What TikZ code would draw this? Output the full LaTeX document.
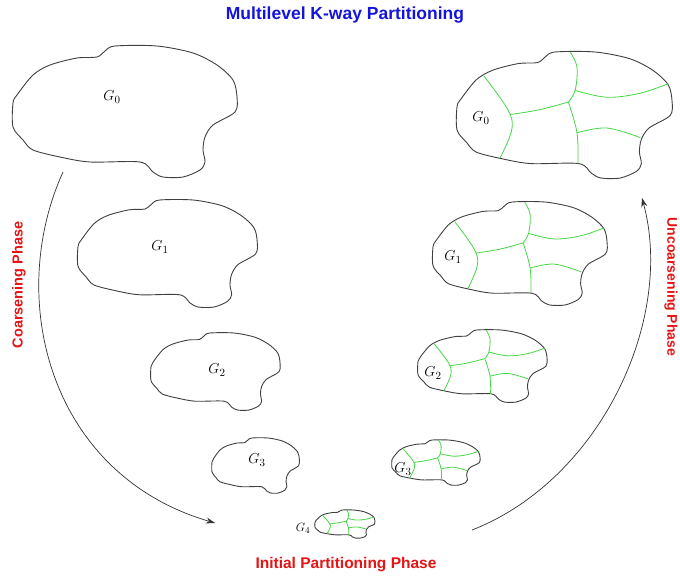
\documentclass[tikz,border=0pt]{standalone}
\usepackage{fontspec}
\newfontfamily\labelfont{Liberation Sans}
\usetikzlibrary{arrows.meta}
\definecolor{partgreen}{RGB}{70,215,70}
\definecolor{titleblue}{RGB}{20,20,220}
\definecolor{phasered}{RGB}{230,20,20}
\newcommand{\myblob}[4]{%
  \begin{scope}[shift={(#1,#2)},xscale=#3,yscale=#4]
    \draw[blobline] plot[smooth cycle, tension=0.5] coordinates {(64,12) (84,11) (92,5) (102,0) (144,0) (180,7) (204,19) (220,34) (224,51) (222,66) (200,79) (192,91) (190,104) (192,116) (187,124) (170,131) (150,131) (140,126) (127,116) (77,116) (47,111) (20,104) (10,94) (0,81) (0,57) (4,49) (20,29) (37,19)};
  \end{scope}}
\newcommand{\mypart}[4]{%
  \begin{scope}[shift={(#1,#2)},xscale=#3,yscale=#4]
    \draw[partline] plot[smooth, tension=0.6] coordinates {(28,25) (53,60) (57,81) (45,110)};
    \draw[partline] plot[smooth, tension=0.6] coordinates {(55,65) (86,60) (116,52)};
    \draw[partline] plot[smooth, tension=0.6] coordinates {(118,0) (125,16) (123,40) (116,52)};
    \draw[partline] plot[smooth, tension=0.6] coordinates {(123,40) (156,47) (190,43) (220,33)};
    \draw[partline] plot[smooth, tension=0.6] coordinates {(116,52) (125,84) (126,116)};
    \draw[partline] plot[smooth, tension=0.6] coordinates {(125,84) (156,79) (191,89)};
  \end{scope}}
\begin{document}
\begin{tikzpicture}[x=1pt,y=-1pt,
  blobline/.style={draw=black!75, line width=0.9pt},
  partline/.style={draw=partgreen, line width=0.8pt},
  glabel/.style={inner sep=0pt, font=\fontsize{15}{17}\selectfont},
  smalllabel/.style={inner sep=0pt, font=\fontsize{13}{15}\selectfont},
  titletext/.style={inner sep=0pt, text=titleblue, font=\labelfont\bfseries\fontsize{17.5}{20}\selectfont},
  phasetext/.style={inner sep=0pt, text=phasered, font=\labelfont\bfseries\fontsize{14.5}{17}\selectfont},
  phasearrow/.style={draw=black!80, line width=0.7pt, -{Stealth[length=9pt,width=6pt]}}]
\useasboundingbox (0,0) rectangle (680,576);
\fill[white] (0,0) rectangle (680,576);

% left column (coarsening)
\myblob{13}{46}{1}{1}
\myblob{78}{200}{0.80}{0.817}
\myblob{151}{333}{0.576}{0.588}
\myblob{212}{438}{0.39}{0.42}
\node[glabel] (lg0) at (112,97) {$G_0$};
\node[glabel] (lg1) at (160,247) {$G_1$};
\node[glabel] (lg2) at (217,370) {$G_2$};
\node[glabel] (lg3) at (257,460) {$G_3$};

% right column (uncoarsening)
\myblob{457}{52}{0.96}{0.962}
\mypart{457}{52}{0.96}{0.962}
\myblob{433}{202}{0.777}{0.786}
\mypart{433}{202}{0.777}{0.786}
\myblob{418}{330}{0.576}{0.55}
\mypart{418}{330}{0.576}{0.55}
\myblob{392}{440}{0.393}{0.344}
\mypart{392}{440}{0.393}{0.344}
\myblob{315}{510}{0.268}{0.214}
\mypart{315}{510}{0.268}{0.214}
\node[glabel] (rg0) at (481,118) {$G_0$};
\node[glabel] (rg1) at (453,257) {$G_1$};
\node[glabel] (rg2) at (433,373) {$G_2$};
\node[glabel] (rg3) at (403,469) {$G_3$};
\node[smalllabel] (g4) at (303,528) {$G_4$};

% phase arrows
\coordinate (cstart) at (63,172);
\coordinate (cend) at (215,523);
\draw[phasearrow] (cstart) .. controls (5,300) and (50,475) .. (cend);
\coordinate (ustart) at (472,530);
\coordinate (uend) at (642,198);
\draw[phasearrow] (ustart) .. controls (600,480) and (675,320) .. (uend);

% texts
\node[titletext] (title) at (345,15) {Multilevel K-way Partitioning};
\node[phasetext, rotate=90] (coarse) at (19,285) {Coarsening Phase};
\node[phasetext, font=\labelfont\bfseries\fontsize{14}{16}\selectfont, rotate=-90] (uncoarse) at (671,287) {Uncoarsening Phase};
\node[phasetext, font=\labelfont\bfseries\fontsize{15.5}{18}\selectfont] (initial) at (346,565) {Initial Partitioning Phase};
\end{tikzpicture}
\end{document}
